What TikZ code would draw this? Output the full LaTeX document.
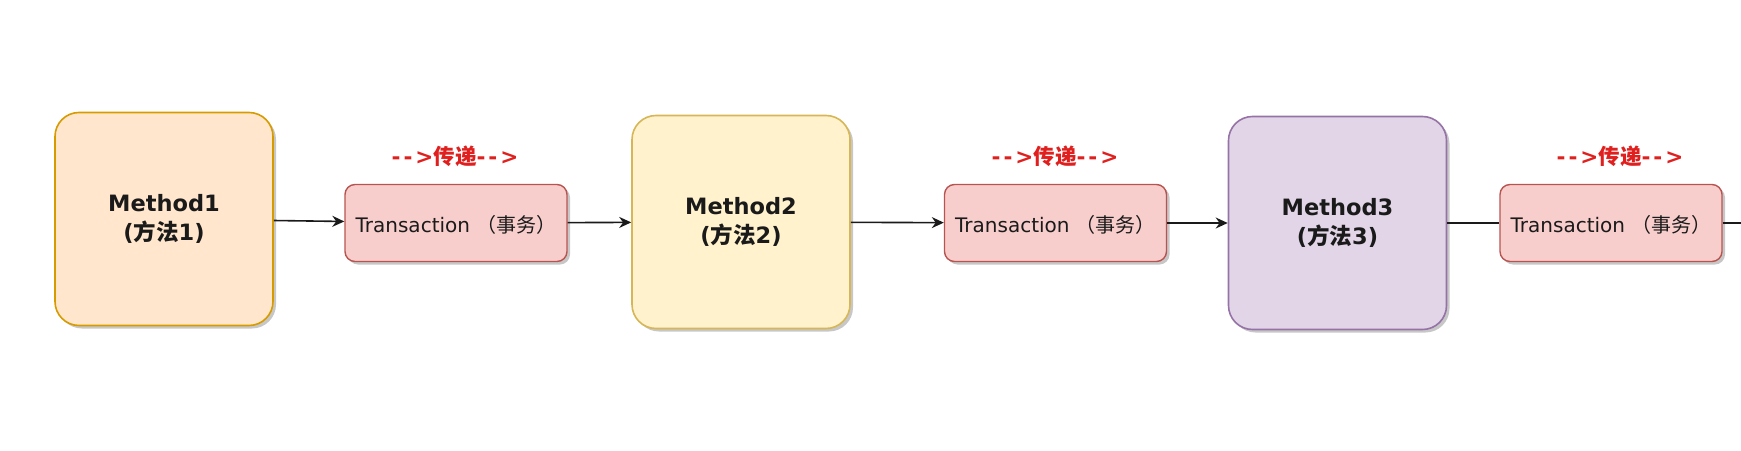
\documentclass[tikz,border=0pt]{standalone}
\usepackage{fontspec}
\setmainfont{DejaVu Sans}
\newfontfamily\cjk{Noto Sans CJK SC}
\usetikzlibrary{arrows.meta,shadows}
\definecolor{txt}{HTML}{1A1A1A}
\definecolor{oFill}{HTML}{FFE6CC}\definecolor{oLine}{HTML}{D79B00}
\definecolor{yFill}{HTML}{FFF2CC}\definecolor{yLine}{HTML}{D6B656}
\definecolor{pFill}{HTML}{E1D5E7}\definecolor{pLine}{HTML}{9673A6}
\definecolor{rFill}{HTML}{F8CECC}\definecolor{rLine}{HTML}{B85450}
\definecolor{lbl}{HTML}{E0201E}
\tikzset{
  shade/.style={drop shadow={shadow xshift=3pt,shadow yshift=-3pt,opacity=0.22,fill=black}},
  methodbox/.style={shade,rounded corners=24pt,line width=1.6pt,minimum width=218pt,minimum height=213pt,
    inner sep=0pt,align=center,text=txt,font=\fontsize{22.5}{28.5}\selectfont\bfseries},
  txbox/.style={shade,rounded corners=10pt,line width=1.4pt,draw=rLine,fill=rFill,minimum width=222pt,minimum height=77pt,
    inner sep=0pt,text height=19pt,text depth=1pt,text=txt,font=\fontsize{20}{24}\selectfont},
  passlabel/.style={text=lbl,font=\fontsize{21.5}{26}\selectfont\bfseries,inner sep=0pt},
  conn/.style={line width=1.6pt,draw=txt},
  tip/.style={-{Stealth[length=12pt,width=11pt]}}
}
\begin{document}
\begin{tikzpicture}[x=1pt,y=-1pt]
\useasboundingbox (0,0) rectangle (1741,450);
\node[methodbox,draw=oLine,fill=oFill] (m1) at (164,219) {Method1\\({\cjk 方法}1)};
\node[methodbox,draw=yLine,fill=yFill] (m2) at (741,222) {Method2\\({\cjk 方法}2)};
\node[methodbox,draw=pLine,fill=pFill] (m3) at (1337.5,223) {Method3\\({\cjk 方法}3)};
\node[txbox] (t1) at (456,223) {Transaction {\cjk （事务）}};
\node[txbox] (t2) at (1055.5,223) {Transaction {\cjk （事务）}};
\node[txbox] (t3) at (1611,223) {Transaction {\cjk （事务）}};
\node[passlabel] (l1) at (455,156) {-\kern3pt-\kern3pt>{\cjk 传递}-\kern3pt-\kern3pt>};
\node[passlabel] (l2) at (1055,156) {-\kern3pt-\kern3pt>{\cjk 传递}-\kern3pt-\kern3pt>};
\node[passlabel] (l3) at (1620,156) {-\kern3pt-\kern3pt>{\cjk 传递}-\kern3pt-\kern3pt>};
\coordinate (out) at (1741,223);
\draw[conn,tip] (m1) -- (t1);
\draw[conn,tip] (t1) -- (m2);
\draw[conn,tip] (m2) -- (t2);
\draw[conn,tip] (t2) -- (m3);
\draw[conn] (m3) -- (t3);
\draw[conn] (t3) -- (out);
\end{tikzpicture}
\end{document}
